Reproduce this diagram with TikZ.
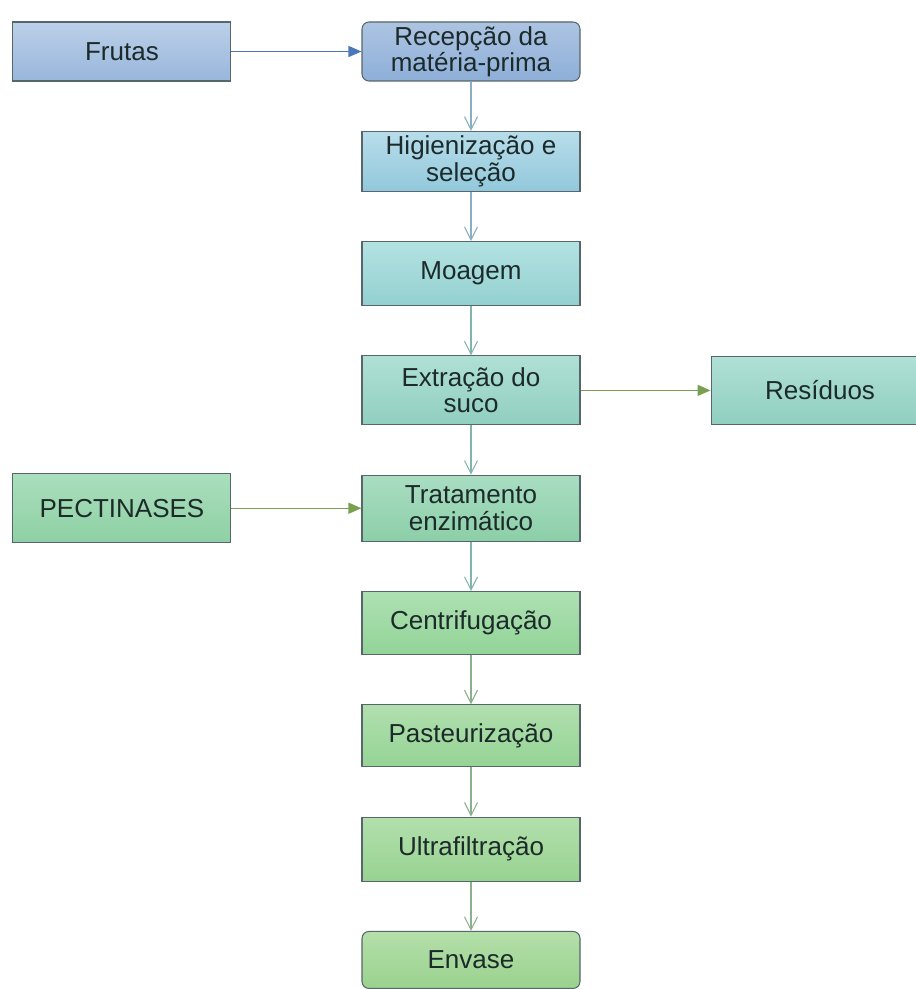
\documentclass[tikz,border=0pt]{standalone}
\usepackage{fontspec}
\setmainfont{Liberation Sans}
\usetikzlibrary{positioning}
\usetikzlibrary{arrows.meta}
\definecolor{TextoEscuro}{HTML}{1C2A2A}
\definecolor{BordaCinza}{HTML}{56666A}
\definecolor{AzulFrutaA}{HTML}{BCD0E8}
\definecolor{AzulFrutaB}{HTML}{98B6DC}
\definecolor{AzulRecA}{HTML}{ADC4E2}
\definecolor{AzulRecB}{HTML}{8EAFD8}
\definecolor{CianoA}{HTML}{B8DDEA}
\definecolor{CianoB}{HTML}{92C8DC}
\definecolor{TurquesaA}{HTML}{B4E2E2}
\definecolor{TurquesaB}{HTML}{93D0D0}
\definecolor{AguaA}{HTML}{B0E0D6}
\definecolor{AguaB}{HTML}{90CFC0}
\definecolor{MentaA}{HTML}{A9DDC2}
\definecolor{MentaB}{HTML}{8CCFA8}
\definecolor{VerdeA}{HTML}{AEE0B2}
\definecolor{VerdeB}{HTML}{92D498}
\definecolor{LimaA}{HTML}{B4DFAA}
\definecolor{LimaB}{HTML}{9AD28E}
\definecolor{SetaAzul}{HTML}{4A78B8}
\definecolor{SetaVerde}{HTML}{78A050}
\definecolor{SetaCinzaAzul}{HTML}{8AAFC2}
\definecolor{SetaCinzaAgua}{HTML}{82B4AE}
\definecolor{SetaCinzaVerde}{HTML}{8CB08E}

\begin{document}
\begin{tikzpicture}[every node/.style={font=\fontsize{14.8}{15}\selectfont, text=TextoEscuro, align=center}, node distance=0.985cm and 2.6cm,
	etapa/.style={draw=BordaCinza, rectangle, line width=0.6pt, minimum width=4.36cm, inner sep=2pt},
	seta/.style={line width=0.6pt, -{Straight Barb[length=2.6mm,width=2.6mm]}},
	setacheia/.style={line width=0.8pt, -{Triangle[length=2.6mm,width=2.2mm]}}]
			\useasboundingbox (0,0) rectangle (18.3,-19.78);
			% Coluna central das etapas
			\node[etapa, rounded corners=0.14cm, top color=AzulRecA, bottom color=AzulRecB, minimum height=1.18cm] (rec) at (9.42,-1.03) {Recepção da\\matéria-prima};
			\node[etapa, below=of rec, top color=CianoA, bottom color=CianoB, minimum height=1.2cm] (hig) {Higienização e\\seleção};
			\node[etapa, below=of hig, top color=TurquesaA, bottom color=TurquesaB, minimum height=1.28cm] (moa) {Moagem};
			\node[etapa, below=of moa, top color=AguaA, bottom color=AguaB, minimum height=1.38cm] (ext) {Extração do\\suco};
			\node[etapa, below=of ext, top color=MentaA, bottom color=MentaB, minimum height=1.32cm] (tra) {Tratamento\\enzimático};
			\node[etapa, below=of tra, top color=VerdeA, bottom color=VerdeB, minimum height=1.26cm] (cen) {Centrifugação};
			\node[etapa, below=of cen, top color=VerdeA!60!LimaA, bottom color=VerdeB!60!LimaB, minimum height=1.24cm] (pas) {Pasteurização};
			\node[etapa, below=of pas, top color=VerdeA!30!LimaA, bottom color=VerdeB!30!LimaB, minimum height=1.28cm] (ult) {Ultrafiltração};
			\node[etapa, below=of ult, rounded corners=0.14cm, top color=LimaA, bottom color=LimaB, minimum height=1.14cm] (env) {Envase};
			%
			% Entradas e saida laterais
			\node[etapa, left=of rec, top color=AzulFrutaA, bottom color=AzulFrutaB, minimum height=1.18cm] (fru) {Frutas};
			\node[etapa, right=of ext, top color=AguaA, bottom color=AguaB, minimum height=1.36cm] (res) {Resíduos};
			\node[etapa, left=of tra, top color=MentaA!70!VerdeA, bottom color=MentaB!70!VerdeB, minimum height=1.38cm] (pec) {PECTINASES};
			%
			% Setas horizontais
			\draw[setacheia, SetaAzul] (fru) -- (rec);
			\draw[setacheia, SetaVerde] (ext) -- (res);
			\draw[setacheia, SetaVerde] (pec) -- (tra);
			%
			% Setas entre as etapas
			\draw[seta, SetaCinzaAzul] (rec) -- (hig);
			\draw[seta, SetaCinzaAzul] (hig) -- (moa);
			\draw[seta, SetaCinzaAgua] (moa) -- (ext);
			\draw[seta, SetaCinzaAgua] (ext) -- (tra);
			\draw[seta, SetaCinzaAgua] (tra) -- (cen);
			\draw[seta, SetaCinzaVerde] (cen) -- (pas);
			\draw[seta, SetaCinzaVerde] (pas) -- (ult);
			\draw[seta, SetaCinzaVerde] (ult) -- (env);
		\end{tikzpicture}
\end{document}
